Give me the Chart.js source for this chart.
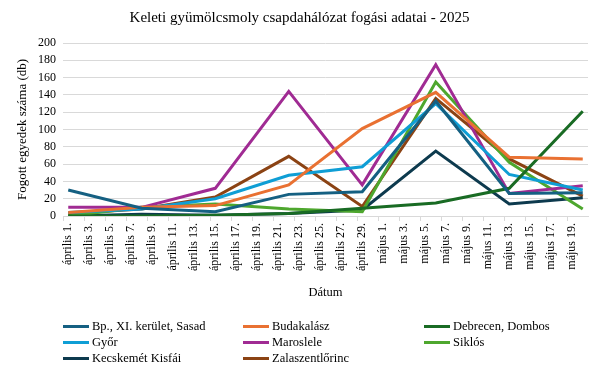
<!DOCTYPE html>
<html lang="hu">
<head>
<meta charset="utf-8">
<script src="https://cdn.jsdelivr.net/npm/chart.js@4"></script>
<style>
    html, body { margin: 0; padding: 0; background: #fff; }
    #wrap { position: relative; width: 600px; height: 375px; }
    #legend { position: absolute; left: 0; top: 0; width: 600px; height: 375px; pointer-events: none;
              font-family: 'Liberation Serif', 'Times New Roman', serif; font-size: 12.5px; color: #000; }
    .lg-item { position: absolute; display: flex; align-items: center; white-space: nowrap; height: 16px; }
    .lg-swatch { width: 26px; height: 3px; margin-right: 3px; }
</style>
</head>
<body>
<div id="wrap">
    <canvas id="chart" width="600" height="375"></canvas>
    <div id="legend"></div>
</div>
<script>
// ── Data ───────────────────────────────────────────────
const sampleDates = ['április 1.', 'április 8.', 'április 15.', 'április 22.', 'április 29.', 'május 6.', 'május 13.', 'május 20.'];

const sasad      = [30, 9, 5, 25, 28, 133, 26, 27];
const budakalasz = [4, 10, 12, 36, 101, 143, 68, 66];
const debrecen   = [0, 0, 1, 3, 9, 15, 32, 121];
const gyor       = [4, 8, 20, 47, 57, 130, 48, 30];
const maroslele  = [10, 10, 32, 144, 36, 175, 26, 35];
const siklos     = [0, 10, 14, 8, 5, 155, 62, 8];
const kecskemet  = [0, 2, 1, 3, 7, 75, 14, 21];
const zala       = [3, 8, 22, 69, 11, 136, 66, 23];

const seriesNames = ['Bp., XI. kerület, Sasad', 'Budakalász', 'Debrecen, Dombos', 'Győr',
                     'Maroslele', 'Siklós', 'Kecskemét Kisfái', 'Zalaszentlőrinc'];
const seriesValues = [sasad, budakalasz, debrecen, gyor, maroslele, siklos, kecskemet, zala];
const seriesColors = ['#156082', '#E97132', '#196B24', '#0F9ED5', '#A02B93', '#4EA72E', '#0D3A4E', '#8B4314'];

// day-by-day date axis (every day is a slot, labels on every second day)
const months = [['április', 30], ['május', 20]];
const days = [];
months.forEach(([name, count]) => {
    for (let d = 1; d <= count; d++) days.push(name + ' ' + d + '.');
});

const serif = "'Liberation Serif', 'Times New Roman', serif";
const gridColor = '#d9d9d9';

const datasets = seriesNames.map((name, i) => ({
    label: name,
    data: sampleDates.map((d, j) => ({ x: d, y: seriesValues[i][j] })),
    borderColor: seriesColors[i],
    backgroundColor: seriesColors[i],
    borderWidth: 3,
    pointRadius: 0,
    tension: 0,
    fill: false,
}));

const chart = new Chart(document.getElementById('chart'), {
    type: 'line',
    data: { labels: days, datasets },
    options: {
        responsive: false,
        animation: false,
        layout: { padding: { left: 11, right: 12, top: 0, bottom: 75 } },
        plugins: {
            legend: { display: false },
            tooltip: { enabled: false },
            title: {
                display: true,
                text: 'Keleti gyümölcsmoly csapdahálózat fogási adatai - 2025',
                color: '#000',
                font: { family: serif, size: 15, weight: 'normal' },
                padding: { top: 9, bottom: 16 },
            },
        },
        scales: {
            x: {
                type: 'category',
                offset: true,
                grid: {
                    offset: true,
                    drawOnChartArea: false,
                    tickLength: 5,
                    tickColor: ctx => ctx.index % 2 === 0 ? gridColor : 'transparent',
                },
                border: { display: true, color: gridColor },
                ticks: {
                    autoSkip: false,
                    minRotation: 90,
                    maxRotation: 90,
                    padding: 2,
                    color: '#000',
                    font: { family: serif, size: 12 },
                    callback: function (v, i) { return i % 2 === 0 ? this.getLabelForValue(v) : ''; },
                },
                title: {
                    display: true,
                    text: 'Dátum',
                    color: '#000',
                    font: { family: serif, size: 12.5 },
                    padding: { top: 2, bottom: 0 },
                },
                afterFit: s => { s.height = 84; },
            },
            y: {
                min: 0,
                max: 200,
                ticks: { stepSize: 20, autoSkip: false, color: '#000', padding: 7, font: { family: serif, size: 12 } },
                grid: { color: gridColor, drawTicks: false },
                border: { display: false },
                title: {
                    display: true,
                    text: 'Fogott egyedek száma (db)',
                    color: '#000',
                    font: { family: serif, size: 13 },
                    padding: { top: 4, bottom: 4 },
                },
                afterFit: s => { s.width = 52; },
            },
        },
    },
});

// ── Legend (3 columns, like the original) ─────────────
const legendEl = document.getElementById('legend');
const colX = [63, 243, 424];
const rowY = [318, 334, 350];
chart.data.datasets.forEach((ds, i) => {
    const item = document.createElement('div');
    item.className = 'lg-item';
    item.style.left = colX[i % 3] + 'px';
    item.style.top = rowY[Math.floor(i / 3)] + 'px';
    item.innerHTML = '<span class="lg-swatch" style="background:' + ds.borderColor + '"></span>' + ds.label;
    legendEl.appendChild(item);
});
</script>
</body>
</html>
